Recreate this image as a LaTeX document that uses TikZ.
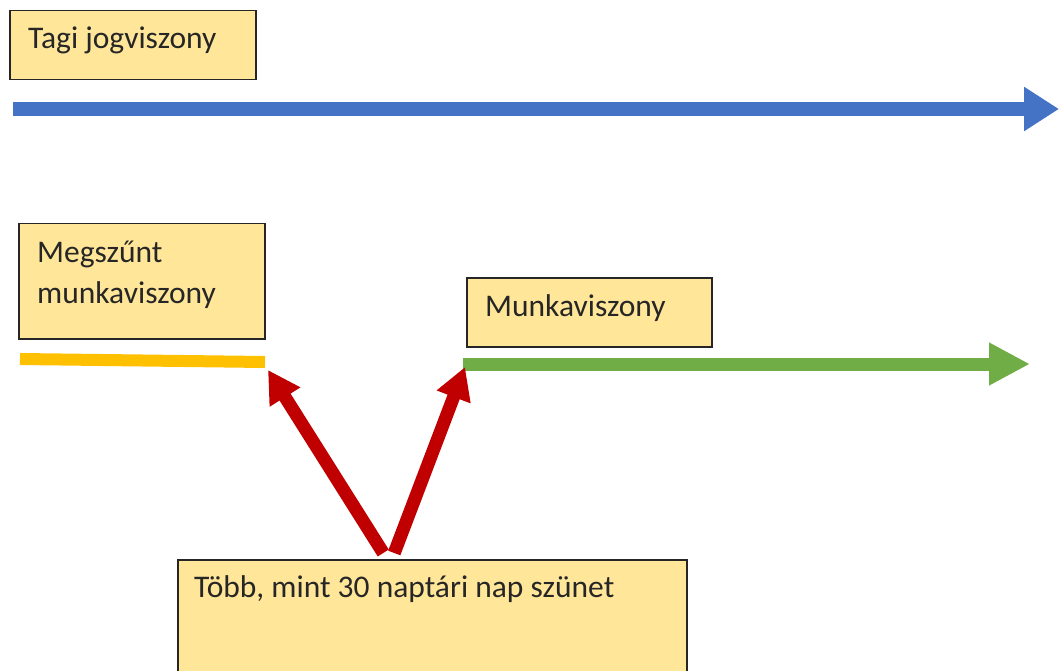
\documentclass[tikz,border=0pt]{standalone}
\usepackage{fontspec}
\setmainfont{Carlito}
\usetikzlibrary{arrows.meta,positioning}
\definecolor{boxfill}{HTML}{FFE699}
\definecolor{boxline}{HTML}{262626}
\definecolor{tagiblue}{HTML}{4472C4}
\definecolor{oldyellow}{HTML}{FFC000}
\definecolor{workgreen}{HTML}{70AD47}
\definecolor{gapred}{HTML}{C00000}

\begin{document}
\begin{tikzpicture}[x=1pt,y=-1pt,
  box/.style={draw=boxline,line width=1.5pt,fill=boxfill,rectangle,anchor=north west,inner sep=0pt},
  txt/.style={anchor=base west,inner sep=0pt,font=\fontsize{31.5pt}{41pt}\selectfont,text=black!85}]
\clip (0,0) rectangle (1060,671);
%%First place the boxes
\node[box,minimum width=246pt,minimum height=69pt] (tagiBox) at (9,10) {};
\node[box,minimum width=246pt,minimum height=115pt] (megszBox) at (18,223) {};
\node[box,minimum width=245pt,minimum height=69pt] (munkaBox) at (466,277) {};
\node[box,minimum width=509pt,minimum height=130pt] (szunetBox) at (177,559) {};
%%Then the texts
\node[txt] (tagiText) at ([shift={(19,39)}]tagiBox.north west) {Tagi jogviszony};
\node[txt] (megszText) at ([shift={(19,39)}]megszBox.north west) {Megszűnt};
\node[txt] (megszText2) at ([shift={(19,80)}]megszBox.north west) {munkaviszony};
\node[txt] (munkaText) at ([shift={(19,39)}]munkaBox.north west) {Munkaviszony};
\node[txt] (szunetText) at ([shift={(17,38)}]szunetBox.north west) {Több, mint 30 naptári nap szünet};
%%Line ends
\coordinate (tagiStart) at (13,109);
\coordinate (tagiEnd) at (1059,109);
\coordinate (megszStart) at (20,359);
\coordinate (megszEnd) at (265,362);
\coordinate (munkaStart) at (463,364);
\coordinate (munkaEnd) at (1030,364);
%%Draw the time lines
\draw[tagiblue,line width=14pt,-{Triangle[width=42pt,length=35pt]}] (tagiStart) -- (tagiEnd);
\draw[oldyellow,line width=12pt] (megszStart) -- (megszEnd);
\draw[workgreen,line width=13pt,-{Triangle[width=40pt,length=41pt]}] (munkaStart) -- (munkaEnd);
%%Draw the red arrows
\draw[gapred,line width=13pt,-{Triangle[width=34pt,length=32pt]}]
  ([shift={(-49,-6)}]szunetBox.north) -- ([shift={(3,8)}]megszEnd);
\draw[gapred,line width=13pt,-{Triangle[width=34pt,length=32pt]}]
  ([shift={(-38,-6)}]szunetBox.north) -- ([shift={(2,3)}]munkaStart);
\end{tikzpicture}
\end{document}
